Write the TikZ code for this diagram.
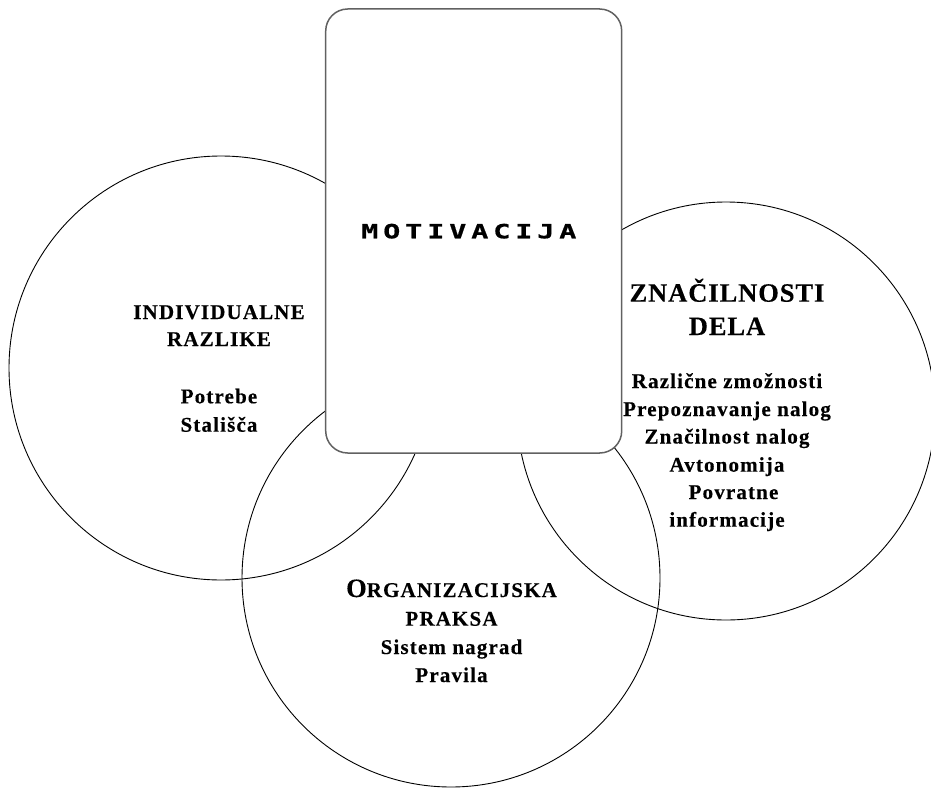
\documentclass[tikz,border=0pt]{standalone}
\usepackage{fontspec}
\setmainfont{Liberation Serif}
\newfontfamily\tnr[LetterSpace=5.5,FakeBold=0.3]{Liberation Serif}
\newfontfamily\tnrbig[LetterSpace=3.5,FakeBold=0.3]{Liberation Serif}
\newfontfamily\monob[FakeStretch=1.45,LetterSpace=25,FakeBold=0.8]{DejaVu Sans Mono}
\begin{document}
\begin{tikzpicture}[x=1pt,y=-1pt,
  ring/.style={draw=black,line width=0.9pt},
  card/.style={draw=black!62,line width=1.5pt,fill=white,rounded corners=22pt},
  txt/.style={anchor=base,inner sep=0pt,font=\tnr\bfseries\fontsize{21pt}{28pt}\selectfont},
  big/.style={anchor=base,inner sep=0pt,font=\tnrbig\bfseries\fontsize{26.5pt}{33pt}\selectfont}]
\useasboundingbox (0,0) rectangle (931,789);
% circles
\draw[ring] (221,368) circle [radius=212pt];
\draw[ring] (726,411) circle [radius=209pt];
\draw[ring] (451,578) circle [radius=209pt];
% central card
\draw[card] (325.7,9) rectangle (621.7,453);
\node[anchor=base west,inner sep=0pt,font=\monob\bfseries\fontsize{19.6pt}{24pt}\selectfont] (mot) at (361,238.3) {MOTIVACIJA};
% left
\node[txt] (l1) at (219,319) {INDIVIDUALNE};
\node[txt] (l2) at (219,346) {RAZLIKE};
\node[txt] (l3) at (219,403.3) {Potrebe};
\node[txt] (l4) at (219,431.7) {Stališča};
% right
\node[big] (r1) at (727,301.7) {ZNAČILNOSTI};
\node[big] (r2) at (727,335) {DELA};
\node[txt] (r3) at (727,388) {Različne zmožnosti};
\node[txt] (r4) at (727,416) {Prepoznavanje nalog};
\node[txt] (r5) at (727,443.5) {Značilnost nalog};
\node[txt] (r6) at (727,471.7) {Avtonomija};
\node[txt] (r7) at (733.5,499) {Povratne};
\node[txt] (r8) at (727,526.7) {informacije};
% bottom
\node[txt] (b1) at (451.5,597) {{\fontsize{26.5pt}{28pt}\selectfont O}RGANIZACIJSKA};
\node[txt] (b2) at (451.5,625.7) {PRAKSA};
\node[txt] (b3) at (451.5,654) {Sistem nagrad};
\node[txt] (b4) at (451.5,682) {Pravila};
\end{tikzpicture}
\end{document}
